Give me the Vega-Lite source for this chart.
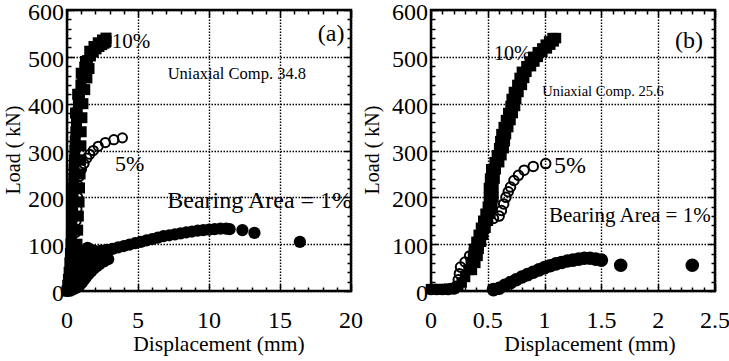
{
  "$schema": "https://vega.github.io/schema/vega-lite/v6.json",
  "background": "white",
  "padding": {"left": 2, "top": -1, "right": 0, "bottom": 0},
  "spacing": 80,
  "bounds": "flush",
  "config": {
    "font": "Liberation Serif",
    "view": {"stroke": "black", "strokeWidth": 2.5},
    "axis": {
      "domain": false, "grid": false, "labels": false, "ticks": true, "title": null,
      "tickColor": "black", "tickWidth": 1.5,
      "gridColor": "black", "gridDash": [1.5, 1.5], "gridWidth": 1.4, "gridOpacity": 1
    },
    "text": {"font": "Liberation Serif", "color": "black"}
  },
  "datasets": {
    "xa": [{"v":0},{"v":5},{"v":10},{"v":15},{"v":20}],
    "xb": [{"v":0},{"v":0.5},{"v":1},{"v":1.5},{"v":2},{"v":2.5}],
    "yv": [{"v":0},{"v":100},{"v":200},{"v":300},{"v":400},{"v":500},{"v":600}],
    "a10": [
      {"d":0,"load":0},{"d":0.05,"load":12},{"d":0.1,"load":25},{"d":0.15,"load":40},{"d":0.2,"load":60},{"d":0.24,"load":80},{"d":0.28,"load":100},{"d":0.31,"load":120},{"d":0.34,"load":140},{"d":0.37,"load":160},{"d":0.4,"load":180},{"d":0.43,"load":200},{"d":0.46,"load":220},{"d":0.48,"load":240},{"d":0.5,"load":260},{"d":0.52,"load":280},{"d":0.55,"load":300},{"d":0.58,"load":320},{"d":0.62,"load":340},{"d":0.67,"load":360},{"d":0.72,"load":380},{"d":0.8,"load":400},{"d":0.88,"load":420},{"d":0.98,"load":440},{"d":1.1,"load":460},{"d":1.25,"load":478},{"d":1.45,"load":492},{"d":1.65,"load":502},{"d":1.85,"load":510},{"d":2.05,"load":517},{"d":2.25,"load":522},{"d":2.45,"load":526},{"d":2.6,"load":529},{"d":2.7,"load":531},{"d":2.75,"load":533},
      {"d":0.7,"load":100},{"d":0.75,"load":130},{"d":0.8,"load":160},{"d":0.85,"load":190},{"d":0.88,"load":220},{"d":0.92,"load":250},{"d":0.95,"load":280},{"d":0.98,"load":310},{"d":1.0,"load":340},{"d":1.05,"load":370},{"d":1.12,"load":400},{"d":1.25,"load":430},{"d":1.4,"load":455},{"d":1.55,"load":475},
      {"d":1.3,"load":490},{"d":1.6,"load":512},{"d":1.9,"load":522},{"d":2.2,"load":530},{"d":2.5,"load":536},{"d":2.75,"load":540},{"d":1.0,"load":465},{"d":0.75,"load":420},{"d":0.6,"load":380}
    ],
    "a5": [
      {"d":0,"load":0},{"d":0.3,"load":25},{"d":0.45,"load":50},{"d":0.5,"load":75},{"d":0.55,"load":100},{"d":0.6,"load":125},{"d":0.65,"load":150},{"d":0.7,"load":175},{"d":0.75,"load":200},{"d":0.8,"load":225},{"d":0.88,"load":245},{"d":1.02,"load":260},{"d":1.2,"load":272},{"d":1.4,"load":284},{"d":1.6,"load":292},{"d":1.85,"load":300},{"d":2.2,"load":309},{"d":2.7,"load":317},{"d":3.3,"load":323},{"d":3.9,"load":327}
    ],
    "a1": [
      {"d":0,"load":0},{"d":0.15,"load":1},{"d":0.3,"load":2},{"d":0.45,"load":4},{"d":0.6,"load":6},{"d":0.75,"load":9},{"d":0.9,"load":13},{"d":1.05,"load":18},{"d":1.2,"load":24},{"d":1.35,"load":30},{"d":1.5,"load":36},{"d":1.7,"load":42},{"d":1.9,"load":48},{"d":2.1,"load":53},{"d":2.3,"load":58},{"d":2.6,"load":63},{"d":2.9,"load":68},
      {"d":0.3,"load":20},{"d":0.5,"load":40},{"d":0.7,"load":60},{"d":0.9,"load":80},{"d":0.6,"load":25},{"d":0.2,"load":30},{"d":0.4,"load":60},{"d":0.6,"load":85},
      {"d":1.5,"load":60},{"d":1.9,"load":68},{"d":2.3,"load":75},{"d":0.9,"load":40},{"d":1.0,"load":65},
      {"d":1.2,"load":40},{"d":1.2,"load":55},{"d":1.25,"load":70},{"d":1.3,"load":85},{"d":1.45,"load":92},{"d":1.7,"load":88},{"d":2.0,"load":85},{"d":2.4,"load":86},{"d":2.8,"load":88},{"d":3.2,"load":90},{"d":3.6,"load":93},{"d":4.0,"load":96},{"d":4.4,"load":99},{"d":4.8,"load":102},{"d":5.2,"load":105},{"d":5.6,"load":108},{"d":6.0,"load":111},{"d":6.4,"load":114},{"d":6.8,"load":117},{"d":7.2,"load":119},{"d":7.6,"load":121},{"d":8.0,"load":123},{"d":8.4,"load":125},{"d":8.8,"load":127},{"d":9.2,"load":129},{"d":9.6,"load":130},{"d":10.0,"load":131},{"d":10.4,"load":132},{"d":10.8,"load":133},{"d":11.2,"load":133},{"d":11.45,"load":132},{"d":12.35,"load":130},{"d":13.2,"load":124},{"d":16.4,"load":105}
    ],
    "b10": [
      {"d":0,"load":4},{"d":0.04,"load":4},{"d":0.08,"load":4},{"d":0.12,"load":4},{"d":0.16,"load":5},{"d":0.2,"load":6},{"d":0.24,"load":10},{"d":0.27,"load":18},{"d":0.3,"load":30},
      {"d":0.33,"load":45},{"d":0.36,"load":45},{"d":0.35,"load":60},{"d":0.39,"load":60},{"d":0.37,"load":75},{"d":0.41,"load":75},{"d":0.38,"load":90},{"d":0.42,"load":90},{"d":0.4,"load":105},{"d":0.44,"load":105},{"d":0.42,"load":120},{"d":0.46,"load":120},{"d":0.44,"load":135},{"d":0.48,"load":135},{"d":0.46,"load":150},{"d":0.5,"load":150},{"d":0.48,"load":165},{"d":0.52,"load":165},{"d":0.5,"load":180},{"d":0.54,"load":180},{"d":0.51,"load":200},{"d":0.55,"load":200},{"d":0.51,"load":220},{"d":0.55,"load":220},{"d":0.52,"load":240},{"d":0.56,"load":240},{"d":0.53,"load":260},{"d":0.57,"load":260},{"d":0.56,"load":275},{"d":0.6,"load":275},{"d":0.58,"load":290},{"d":0.62,"load":290},{"d":0.6,"load":305},{"d":0.64,"load":305},{"d":0.61,"load":320},{"d":0.65,"load":320},{"d":0.62,"load":335},{"d":0.66,"load":335},{"d":0.64,"load":350},{"d":0.68,"load":350},{"d":0.66,"load":365},{"d":0.7,"load":365},{"d":0.68,"load":380},{"d":0.72,"load":380},{"d":0.7,"load":395},{"d":0.74,"load":395},{"d":0.71,"load":410},{"d":0.75,"load":410},{"d":0.73,"load":425},{"d":0.77,"load":425},{"d":0.76,"load":440},{"d":0.8,"load":440},{"d":0.78,"load":455},{"d":0.82,"load":455},{"d":0.8,"load":468},{"d":0.84,"load":468},{"d":0.84,"load":480},{"d":0.88,"load":480},{"d":0.87,"load":490},{"d":0.91,"load":490},{"d":0.9,"load":500},{"d":0.94,"load":500},{"d":0.94,"load":510},{"d":0.98,"load":510},{"d":0.98,"load":518},{"d":1.02,"load":518},{"d":1.01,"load":526},{"d":1.05,"load":526},{"d":1.04,"load":533},{"d":1.08,"load":533},{"d":1.07,"load":540},{"d":1.1,"load":540}
    ],
    "b5": [
      {"d":0,"load":3},{"d":0.05,"load":3},{"d":0.1,"load":3},{"d":0.15,"load":3},{"d":0.2,"load":4},{"d":0.22,"load":10},{"d":0.24,"load":24},{"d":0.25,"load":37},{"d":0.26,"load":51},{"d":0.3,"load":62},{"d":0.34,"load":75},{"d":0.38,"load":90},{"d":0.41,"load":105},{"d":0.44,"load":120},{"d":0.47,"load":135},{"d":0.5,"load":148},{"d":0.55,"load":155},{"d":0.6,"load":160},{"d":0.62,"load":172},{"d":0.64,"load":186},{"d":0.66,"load":200},{"d":0.68,"load":212},{"d":0.7,"load":222},{"d":0.73,"load":236},{"d":0.77,"load":247},{"d":0.82,"load":258},{"d":0.9,"load":266},{"d":1.01,"load":272}
    ],
    "b1": [
      {"d":0.55,"load":3},{"d":0.6,"load":6},{"d":0.65,"load":12},{"d":0.7,"load":18},{"d":0.75,"load":24},{"d":0.8,"load":30},{"d":0.85,"load":35},{"d":0.9,"load":40},{"d":0.95,"load":45},{"d":1.0,"load":50},{"d":1.05,"load":54},{"d":1.1,"load":58},{"d":1.15,"load":61},{"d":1.2,"load":64},{"d":1.25,"load":66},{"d":1.3,"load":68},{"d":1.35,"load":70},{"d":1.4,"load":70},{"d":1.45,"load":68},{"d":1.5,"load":66},
      {"d":1.67,"load":55},{"d":2.3,"load":55}
    ]
  },
  "hconcat": [
    {
      "width": 284, "height": 281,
      "resolve": {"axis": {"x": "independent", "y": "independent"}},
      "layer": [
        {
          "data": {"values": [{}]},
          "mark": {"type": "text", "fontSize": 24, "align": "center", "baseline": "middle"},
          "encoding": {
            "text": {"value": "(a)"},
            "x": {"datum": 18.6, "type": "quantitative", "scale": {"domain": [0, 20], "nice": false, "zero": false},
                  "axis": {"orient": "bottom", "values": [1,2,3,4,6,7,8,9,11,12,13,14,16,17,18,19], "tickSize": -4}},
            "y": {"datum": 549, "type": "quantitative", "scale": {"domain": [0, 600], "nice": false, "zero": false},
                  "axis": {"orient": "left", "values": [20,40,60,80,120,140,160,180,220,240,260,280,320,340,360,380,420,440,460,480,520,540,560,580], "tickSize": -4}}
          }
        },
        {
          "data": {"values": [{}]},
          "mark": {"type": "text", "fontSize": 16.5, "align": "center", "baseline": "middle"},
          "encoding": {
            "text": {"value": "Uniaxial Comp. 34.8"},
            "x": {"datum": 11.96, "type": "quantitative", "scale": {"domain": [0, 20], "nice": false, "zero": false},
                  "axis": {"orient": "bottom", "values": [0, 5, 10, 15, 20], "tickSize": -7}},
            "y": {"datum": 464, "type": "quantitative", "scale": {"domain": [0, 600], "nice": false, "zero": false},
                  "axis": {"orient": "left", "values": [0, 100, 200, 300, 400, 500, 600], "tickSize": -7}}
          }
        },
        {
          "data": {"values": [{}]},
          "mark": {"type": "text", "fontSize": 24, "align": "center", "baseline": "middle"},
          "encoding": {
            "text": {"value": "Bearing Area = 1%"},
            "x": {"datum": 13.57, "type": "quantitative", "scale": {"domain": [0, 20], "nice": false, "zero": false},
                  "axis": {"orient": "top", "values": [1,2,3,4,6,7,8,9,11,12,13,14,16,17,18,19], "tickSize": -4}},
            "y": {"datum": 192, "type": "quantitative", "scale": {"domain": [0, 600], "nice": false, "zero": false},
                  "axis": {"orient": "right", "values": [20,40,60,80,120,140,160,180,220,240,260,280,320,340,360,380,420,440,460,480,520,540,560,580], "tickSize": -4}}
          }
        },
        {
          "data": {"values": [{}]},
          "mark": {"type": "text", "fontSize": 21, "align": "left", "baseline": "middle"},
          "encoding": {
            "text": {"value": "10%"},
            "x": {"datum": 3.16, "type": "quantitative", "scale": {"domain": [0, 20], "nice": false, "zero": false},
                  "axis": {"orient": "top", "values": [0, 5, 10, 15, 20], "tickSize": -7}},
            "y": {"datum": 532, "type": "quantitative", "scale": {"domain": [0, 600], "nice": false, "zero": false},
                  "axis": {"orient": "right", "values": [0, 100, 200, 300, 400, 500, 600], "tickSize": -7}}
          }
        },
        {
          "data": {"values": [{}]},
          "mark": {"type": "text", "fontSize": 22, "align": "left", "baseline": "middle"},
          "encoding": {
            "text": {"value": "5%"},
            "x": {"datum": 3.38, "type": "quantitative", "scale": {"domain": [0, 20], "nice": false, "zero": false}, "axis": null},
            "y": {"datum": 271, "type": "quantitative", "scale": {"domain": [0, 600], "nice": false, "zero": false}, "axis": null}
          }
        },
        {
          "data": {"name": "a1"},
          "mark": {"type": "circle", "size": 150, "color": "black", "opacity": 1},
          "encoding": {
            "x": {"field": "d", "type": "quantitative", "scale": {"domain": [0, 20], "nice": false, "zero": false},
                  "axis": {"orient": "bottom", "ticks": false, "grid": true, "values": [0, 5, 10, 15, 20]}},
            "y": {"field": "load", "type": "quantitative", "scale": {"domain": [0, 600], "nice": false, "zero": false},
                  "axis": {"orient": "left", "ticks": false, "grid": true, "values": [0, 100, 200, 300, 400, 500, 600]}}
          }
        },
        {
          "data": {"name": "a5"},
          "mark": {"type": "point", "shape": "circle", "size": 85, "filled": false, "stroke": "black", "strokeWidth": 2, "opacity": 1},
          "encoding": {
            "x": {"field": "d", "type": "quantitative", "scale": {"domain": [0, 20], "nice": false, "zero": false}, "axis": null},
            "y": {"field": "load", "type": "quantitative", "scale": {"domain": [0, 600], "nice": false, "zero": false}, "axis": null}
          }
        },
        {
          "data": {"name": "a10"},
          "mark": {"type": "point", "shape": "square", "size": 121, "filled": true, "color": "black", "opacity": 1},
          "encoding": {
            "x": {"field": "d", "type": "quantitative", "scale": {"domain": [0, 20], "nice": false, "zero": false}, "axis": null},
            "y": {"field": "load", "type": "quantitative", "scale": {"domain": [0, 600], "nice": false, "zero": false}, "axis": null}
          }
        },
        {
          "data": {"name": "xa"},
          "mark": {"type": "text", "fontSize": 24, "align": "center", "baseline": "alphabetic", "dy": 37},
          "encoding": {
            "text": {"field": "v", "type": "quantitative", "format": "~g"},
            "x": {"field": "v", "type": "quantitative", "scale": {"domain": [0, 20], "nice": false, "zero": false}, "axis": null},
            "y": {"datum": 0, "type": "quantitative", "scale": {"domain": [0, 600], "nice": false, "zero": false}, "axis": null}
          }
        },
        {
          "data": {"name": "yv"},
          "mark": {"type": "text", "fontSize": 24, "align": "right", "baseline": "middle", "dx": -3, "dy": 3},
          "encoding": {
            "text": {"field": "v", "type": "quantitative", "format": "~g"},
            "x": {"datum": 0, "type": "quantitative", "scale": {"domain": [0, 20], "nice": false, "zero": false}, "axis": null},
            "y": {"field": "v", "type": "quantitative", "scale": {"domain": [0, 600], "nice": false, "zero": false}, "axis": null}
          }
        },
        {
          "data": {"values": [{}]},
          "mark": {"type": "text", "fontSize": 21.5, "align": "center", "baseline": "alphabetic", "dy": 60},
          "encoding": {
            "text": {"value": "Displacement (mm)"},
            "x": {"datum": 10.7, "type": "quantitative", "scale": {"domain": [0, 20], "nice": false, "zero": false}, "axis": null},
            "y": {"datum": 0, "type": "quantitative", "scale": {"domain": [0, 600], "nice": false, "zero": false}, "axis": null}
          }
        },
        {
          "data": {"values": [{}]},
          "mark": {"type": "text", "fontSize": 20, "align": "center", "baseline": "middle", "angle": 270, "dy": -53},
          "encoding": {
            "text": {"value": "Load ( kN)"},
            "x": {"datum": 0, "type": "quantitative", "scale": {"domain": [0, 20], "nice": false, "zero": false}, "axis": null},
            "y": {"datum": 301, "type": "quantitative", "scale": {"domain": [0, 600], "nice": false, "zero": false}, "axis": null}
          }
        }
      ]
    },
    {
      "width": 284, "height": 281,
      "resolve": {"axis": {"x": "independent", "y": "independent"}},
      "layer": [
        {
          "data": {"values": [{}]},
          "mark": {"type": "text", "fontSize": 24, "align": "center", "baseline": "middle"},
          "encoding": {
            "text": {"value": "(b)"},
            "x": {"datum": 2.27, "type": "quantitative", "scale": {"domain": [0, 2.5], "nice": false, "zero": false},
                  "axis": {"orient": "bottom", "values": [0.1,0.2,0.3,0.4,0.6,0.7,0.8,0.9,1.1,1.2,1.3,1.4,1.6,1.7,1.8,1.9,2.1,2.2,2.3,2.4], "tickSize": -4}},
            "y": {"datum": 533, "type": "quantitative", "scale": {"domain": [0, 600], "nice": false, "zero": false},
                  "axis": {"orient": "left", "values": [20,40,60,80,120,140,160,180,220,240,260,280,320,340,360,380,420,440,460,480,520,540,560,580], "tickSize": -4}}
          }
        },
        {
          "data": {"values": [{}]},
          "mark": {"type": "text", "fontSize": 14.5, "align": "center", "baseline": "middle"},
          "encoding": {
            "text": {"value": "Uniaxial Comp. 25.6"},
            "x": {"datum": 1.514, "type": "quantitative", "scale": {"domain": [0, 2.5], "nice": false, "zero": false},
                  "axis": {"orient": "bottom", "values": [0, 0.5, 1, 1.5, 2, 2.5], "tickSize": -7}},
            "y": {"datum": 424, "type": "quantitative", "scale": {"domain": [0, 600], "nice": false, "zero": false},
                  "axis": {"orient": "left", "values": [0, 100, 200, 300, 400, 500, 600], "tickSize": -7}}
          }
        },
        {
          "data": {"values": [{}]},
          "mark": {"type": "text", "fontSize": 21, "align": "center", "baseline": "middle"},
          "encoding": {
            "text": {"value": "Bearing Area = 1%"},
            "x": {"datum": 1.75, "type": "quantitative", "scale": {"domain": [0, 2.5], "nice": false, "zero": false},
                  "axis": {"orient": "top", "values": [0.1,0.2,0.3,0.4,0.6,0.7,0.8,0.9,1.1,1.2,1.3,1.4,1.6,1.7,1.8,1.9,2.1,2.2,2.3,2.4], "tickSize": -4}},
            "y": {"datum": 160, "type": "quantitative", "scale": {"domain": [0, 600], "nice": false, "zero": false},
                  "axis": {"orient": "right", "values": [20,40,60,80,120,140,160,180,220,240,260,280,320,340,360,380,420,440,460,480,520,540,560,580], "tickSize": -4}}
          }
        },
        {
          "data": {"values": [{}]},
          "mark": {"type": "text", "fontSize": 20, "align": "left", "baseline": "middle"},
          "encoding": {
            "text": {"value": "10%"},
            "x": {"datum": 0.555, "type": "quantitative", "scale": {"domain": [0, 2.5], "nice": false, "zero": false},
                  "axis": {"orient": "top", "values": [0, 0.5, 1, 1.5, 2, 2.5], "tickSize": -7}},
            "y": {"datum": 505, "type": "quantitative", "scale": {"domain": [0, 600], "nice": false, "zero": false},
                  "axis": {"orient": "right", "values": [0, 100, 200, 300, 400, 500, 600], "tickSize": -7}}
          }
        },
        {
          "data": {"values": [{}]},
          "mark": {"type": "text", "fontSize": 24, "align": "left", "baseline": "middle"},
          "encoding": {
            "text": {"value": "5%"},
            "x": {"datum": 1.083, "type": "quantitative", "scale": {"domain": [0, 2.5], "nice": false, "zero": false}, "axis": null},
            "y": {"datum": 267, "type": "quantitative", "scale": {"domain": [0, 600], "nice": false, "zero": false}, "axis": null}
          }
        },
        {
          "data": {"name": "b1"},
          "mark": {"type": "circle", "size": 185, "color": "black", "opacity": 1},
          "encoding": {
            "x": {"field": "d", "type": "quantitative", "scale": {"domain": [0, 2.5], "nice": false, "zero": false},
                  "axis": {"orient": "bottom", "ticks": false, "grid": true, "values": [0, 0.5, 1, 1.5, 2, 2.5]}},
            "y": {"field": "load", "type": "quantitative", "scale": {"domain": [0, 600], "nice": false, "zero": false},
                  "axis": {"orient": "left", "ticks": false, "grid": true, "values": [0, 100, 200, 300, 400, 500, 600]}}
          }
        },
        {
          "data": {"name": "b5"},
          "mark": {"type": "point", "shape": "circle", "size": 90, "filled": false, "stroke": "black", "strokeWidth": 2, "opacity": 1},
          "encoding": {
            "x": {"field": "d", "type": "quantitative", "scale": {"domain": [0, 2.5], "nice": false, "zero": false}, "axis": null},
            "y": {"field": "load", "type": "quantitative", "scale": {"domain": [0, 600], "nice": false, "zero": false}, "axis": null}
          }
        },
        {
          "data": {"name": "b10"},
          "mark": {"type": "point", "shape": "square", "size": 110, "filled": true, "color": "black", "opacity": 1},
          "encoding": {
            "x": {"field": "d", "type": "quantitative", "scale": {"domain": [0, 2.5], "nice": false, "zero": false}, "axis": null},
            "y": {"field": "load", "type": "quantitative", "scale": {"domain": [0, 600], "nice": false, "zero": false}, "axis": null}
          }
        },
        {
          "data": {"name": "xb"},
          "mark": {"type": "text", "fontSize": 24, "align": "center", "baseline": "alphabetic", "dy": 37},
          "encoding": {
            "text": {"field": "v", "type": "quantitative", "format": "~g"},
            "x": {"field": "v", "type": "quantitative", "scale": {"domain": [0, 2.5], "nice": false, "zero": false}, "axis": null},
            "y": {"datum": 0, "type": "quantitative", "scale": {"domain": [0, 600], "nice": false, "zero": false}, "axis": null}
          }
        },
        {
          "data": {"name": "yv"},
          "mark": {"type": "text", "fontSize": 24, "align": "right", "baseline": "middle", "dx": -3, "dy": 3},
          "encoding": {
            "text": {"field": "v", "type": "quantitative", "format": "~g"},
            "x": {"datum": 0, "type": "quantitative", "scale": {"domain": [0, 2.5], "nice": false, "zero": false}, "axis": null},
            "y": {"field": "v", "type": "quantitative", "scale": {"domain": [0, 600], "nice": false, "zero": false}, "axis": null}
          }
        },
        {
          "data": {"values": [{}]},
          "mark": {"type": "text", "fontSize": 21.5, "align": "center", "baseline": "alphabetic", "dy": 60},
          "encoding": {
            "text": {"value": "Displacement (mm)"},
            "x": {"datum": 1.4, "type": "quantitative", "scale": {"domain": [0, 2.5], "nice": false, "zero": false}, "axis": null},
            "y": {"datum": 0, "type": "quantitative", "scale": {"domain": [0, 600], "nice": false, "zero": false}, "axis": null}
          }
        },
        {
          "data": {"values": [{}]},
          "mark": {"type": "text", "fontSize": 20, "align": "center", "baseline": "middle", "angle": 270, "dy": -58},
          "encoding": {
            "text": {"value": "Load ( kN)"},
            "x": {"datum": 0, "type": "quantitative", "scale": {"domain": [0, 2.5], "nice": false, "zero": false}, "axis": null},
            "y": {"datum": 301, "type": "quantitative", "scale": {"domain": [0, 600], "nice": false, "zero": false}, "axis": null}
          }
        }
      ]
    }
  ]
}
